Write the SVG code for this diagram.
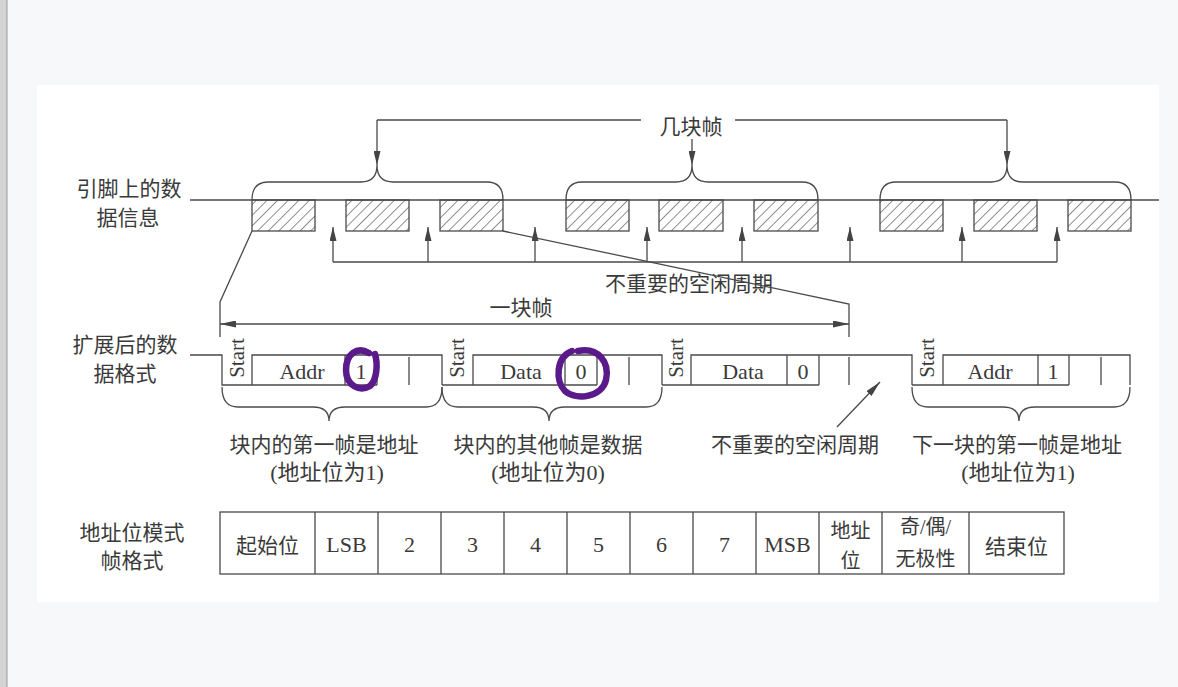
<svg xmlns="http://www.w3.org/2000/svg" width="1178" height="687" viewBox="0 0 1178 687">
<defs>
  <pattern id="hatch" width="7.5" height="7.5" patternUnits="userSpaceOnUse" patternTransform="rotate(45)">
    <line x1="0" y1="0" x2="0" y2="7.5" stroke="#444" stroke-width="1.2"/>
  </pattern>
  <marker id="ah" viewBox="0 0 16 7" refX="16" refY="3.5" markerWidth="16" markerHeight="7" markerUnits="userSpaceOnUse" orient="auto-start-reverse">
    <path d="M0,0 L16,3.5 L0,7 z" fill="#444"/>
  </marker>
  <marker id="ahs" viewBox="0 0 14 7" refX="14" refY="3.5" markerWidth="14" markerHeight="7" markerUnits="userSpaceOnUse" orient="auto-start-reverse">
    <path d="M0,0 L14,3.5 L0,7 z" fill="#444"/>
  </marker>
</defs>
<style>
  .ln{fill:none;stroke:#4a4a4a;stroke-width:1.3}
  .blk{fill:url(#hatch);stroke:#4a4a4a;stroke-width:1.3}
  .t{font-family:"Liberation Serif","Noto Sans CJK SC",serif;font-size:22px;fill:#3a3a3a;text-anchor:middle;dominant-baseline:central}
  .c{font-family:"Noto Sans CJK SC","Liberation Serif",sans-serif;font-size:21px;fill:#3a3a3a;text-anchor:middle;dominant-baseline:central}
  .c2{font-family:"Noto Sans CJK SC","Liberation Serif",sans-serif;font-size:20px;fill:#3a3a3a;text-anchor:middle;dominant-baseline:central}
  .t2{font-family:"Liberation Serif","Noto Sans CJK SC",serif;font-size:20px;fill:#3a3a3a;text-anchor:middle;dominant-baseline:central}
  .s{font-family:"Liberation Serif",serif;font-size:21px;fill:#3a3a3a;text-anchor:middle;dominant-baseline:central}
  .cell{fill:none;stroke:#4a4a4a;stroke-width:1.3}
  .mark{fill:none;stroke:#5a1a8a;stroke-width:6.5;stroke-linecap:round;stroke-linejoin:round}
</style>

<!-- background -->
<rect x="0" y="0" width="1178" height="687" fill="#f6f8fa"/>
<rect x="37" y="85" width="1122" height="517" fill="#ffffff"/>
<rect x="0" y="0" width="7" height="687" fill="#d4d4d4"/>
<line x1="7" y1="0" x2="7" y2="687" stroke="#9a9a9a" stroke-width="1"/>

<!-- labels -->
<g id="label-pin">
  <text class="c" x="129" y="187">引脚上的数</text>
  <text class="c" x="128" y="216">据信息</text>
</g>
<g id="label-expanded">
  <text class="c" x="125" y="343">扩展后的数</text>
  <text class="c" x="125" y="372">据格式</text>
</g>
<g id="label-frameformat">
  <text class="c" x="132" y="531">地址位模式</text>
  <text class="c" x="132" y="559">帧格式</text>
</g>

<!-- pin data line and blocks -->
<g id="pin-line">
  <line class="ln" x1="190" y1="200" x2="1159" y2="200"/>
</g>
<g id="blocks">
  <rect class="blk" x="252" y="200" width="63" height="31"/>
  <rect class="blk" x="346" y="200" width="63" height="31"/>
  <rect class="blk" x="440" y="200" width="63" height="31"/>
  <rect class="blk" x="566" y="200" width="63" height="31"/>
  <rect class="blk" x="659" y="200" width="64" height="31"/>
  <rect class="blk" x="754" y="200" width="64" height="31"/>
  <rect class="blk" x="880" y="200" width="63" height="31"/>
  <rect class="blk" x="974" y="200" width="63" height="31"/>
  <rect class="blk" x="1068" y="200" width="63" height="31"/>
</g>

<g id="label-blocks">
  <text class="c" x="691" y="125">几块帧</text>
</g>
<g id="label-idle-top">
  <text class="c" x="689" y="282">不重要的空闲周期</text>
</g>
<g id="label-oneblock">
  <text class="c" x="521" y="306">一块帧</text>
</g>

<!-- expanded data frames -->
<g id="frame1">
  <path class="ln" d="M190,355 H222 V385 H377 M252,385 V355 H442 V385 M345,355 V385 M377,355 V385 M409,357 V385"/>
  <text class="s" transform="translate(237,358) rotate(-90)">Start</text>
  <text class="t" x="302" y="371">Addr</text>
  <text class="t" x="361" y="371">1</text>
</g>
<g id="frame2">
  <path class="ln" d="M442,385 H597 M473,385 V355 H662 V385 M565,355 V385 M597,355 V385 M629,357 V385"/>
  <text class="s" transform="translate(457,358) rotate(-90)">Start</text>
  <text class="t" x="521" y="371">Data</text>
  <text class="t" x="581" y="371">0</text>
</g>
<g id="frame3">
  <path class="ln" d="M662,385 H819 M691,385 V355 H912 V385 M787,355 V385 M819,355 V385 M849,357 V385"/>
  <text class="s" transform="translate(676,358) rotate(-90)">Start</text>
  <text class="t" x="743" y="371">Data</text>
  <text class="t" x="803" y="371">0</text>
</g>
<g id="frame4">
  <path class="ln" d="M912,385 H1069 M943,385 V355 H1130 V385 M1038,355 V385 M1069,355 V385 M1101,357 V385"/>
  <text class="s" transform="translate(927,358) rotate(-90)">Start</text>
  <text class="t" x="990" y="371">Addr</text>
  <text class="t" x="1053" y="371">1</text>
</g>

<!-- hand-drawn marks -->
<g id="marks">
  <path class="mark" d="M369,353 C357,346 346,354 346,370 C346,386 360,392 370,386 C377,380 378,364 375,354"/>
  <path class="mark" d="M578,351 C598,347 610,362 606,380 C602,397 577,401 565,391 C555,381 556,357 572,351"/>
</g>

<!-- lower captions -->
<g id="caption1">
  <text class="c" x="324" y="443">块内的第一帧是地址</text>
  <text class="t" x="327" y="472">(地址位为1)</text>
</g>
<g id="caption2">
  <text class="c" x="548" y="443">块内的其他帧是数据</text>
  <text class="t" x="548" y="472">(地址位为0)</text>
</g>
<g id="caption3">
  <text class="c" x="795" y="443">不重要的空闲周期</text>
</g>
<g id="caption4">
  <text class="c" x="1017" y="443">下一块的第一帧是地址</text>
  <text class="t" x="1018" y="472">(地址位为1)</text>
</g>

<!-- frame format table -->
<g id="table">
  <rect class="cell" x="220" y="512" width="844" height="62"/>
  <path class="ln" d="M315,512 V574 M378,512 V574 M441,512 V574 M504,512 V574 M567,512 V574 M630,512 V574 M693,512 V574 M756,512 V574 M819,512 V574 M882,512 V574 M969,512 V574"/>
  <text class="c" x="267.5" y="544">起始位</text>
  <text class="t" x="346.5" y="544">LSB</text>
  <text class="t" x="409.5" y="544">2</text>
  <text class="t" x="472.5" y="544">3</text>
  <text class="t" x="535.5" y="544">4</text>
  <text class="t" x="598.5" y="544">5</text>
  <text class="t" x="661.5" y="544">6</text>
  <text class="t" x="724.5" y="544">7</text>
  <text class="t" x="787.5" y="544">MSB</text>
  <text class="c2" x="850.5" y="529">地址</text>
  <text class="c2" x="850.5" y="559">位</text>
  <text class="t2" x="925.5" y="527">奇/偶/</text>
  <text class="c2" x="925.5" y="557">无极性</text>
  <text class="c" x="1016.5" y="545">结束位</text>
</g>

<!-- connectors -->
<g id="connectors">
  <!-- top bracket for 几块帧 -->
  <path class="ln" d="M377,120 H641 M735,120 H1007"/>
  <line class="ln" x1="377" y1="120" x2="377" y2="165" marker-end="url(#ahs)"/>
  <line class="ln" x1="692" y1="139" x2="692" y2="165" marker-end="url(#ahs)"/>
  <line class="ln" x1="1007" y1="120" x2="1007" y2="165" marker-end="url(#ahs)"/>
  <!-- top braces -->
  <path class="ln" d="M252,200 Q252,182 268,182 H361 Q377,182 377,165 Q377,182 393,182 H487 Q503,182 503,200"/>
  <path class="ln" d="M566,200 Q566,182 582,182 H676 Q692,182 692,165 Q692,182 708,182 H802 Q818,182 818,200"/>
  <path class="ln" d="M880,200 Q880,182 896,182 H991 Q1007,182 1007,165 Q1007,182 1023,182 H1115 Q1131,182 1131,200"/>
  <!-- idle period arrows (up) -->
  <path class="ln" d="M333,262 H1057"/>
  <line class="ln" x1="333" y1="262" x2="333" y2="227" marker-end="url(#ahs)"/>
  <line class="ln" x1="428" y1="262" x2="428" y2="227" marker-end="url(#ahs)"/>
  <line class="ln" x1="535" y1="262" x2="535" y2="227" marker-end="url(#ahs)"/>
  <line class="ln" x1="647" y1="262" x2="647" y2="227" marker-end="url(#ahs)"/>
  <line class="ln" x1="742" y1="262" x2="742" y2="227" marker-end="url(#ahs)"/>
  <line class="ln" x1="850" y1="262" x2="850" y2="227" marker-end="url(#ahs)"/>
  <line class="ln" x1="962" y1="262" x2="962" y2="227" marker-end="url(#ahs)"/>
  <line class="ln" x1="1057" y1="262" x2="1057" y2="227" marker-end="url(#ahs)"/>
  <!-- expansion lines -->
  <path class="ln" d="M252,231 L220,302 V337"/>
  <path class="ln" d="M503,231 L849,304 V337"/>
  <!-- one block frame double arrow -->
  <line class="ln" x1="220" y1="324" x2="849" y2="324" marker-start="url(#ah)" marker-end="url(#ah)"/>
  <!-- lower braces -->
  <path class="ln" d="M222,387 Q222,407 238,407 H313 Q329,407 329,421 Q329,407 345,407 H426 Q442,407 442,387"/>
  <path class="ln" d="M442,387 Q442,407 458,407 H533 Q549,407 549,421 Q549,407 565,407 H646 Q662,407 662,387"/>
  <path class="ln" d="M912,387 Q912,407 928,407 H1003 Q1019,407 1019,421 Q1019,407 1035,407 H1114 Q1130,407 1130,387"/>
  <!-- idle arrow lower -->
  <line class="ln" x1="837" y1="427" x2="880" y2="382" marker-end="url(#ah)"/>
</g>
</svg>
